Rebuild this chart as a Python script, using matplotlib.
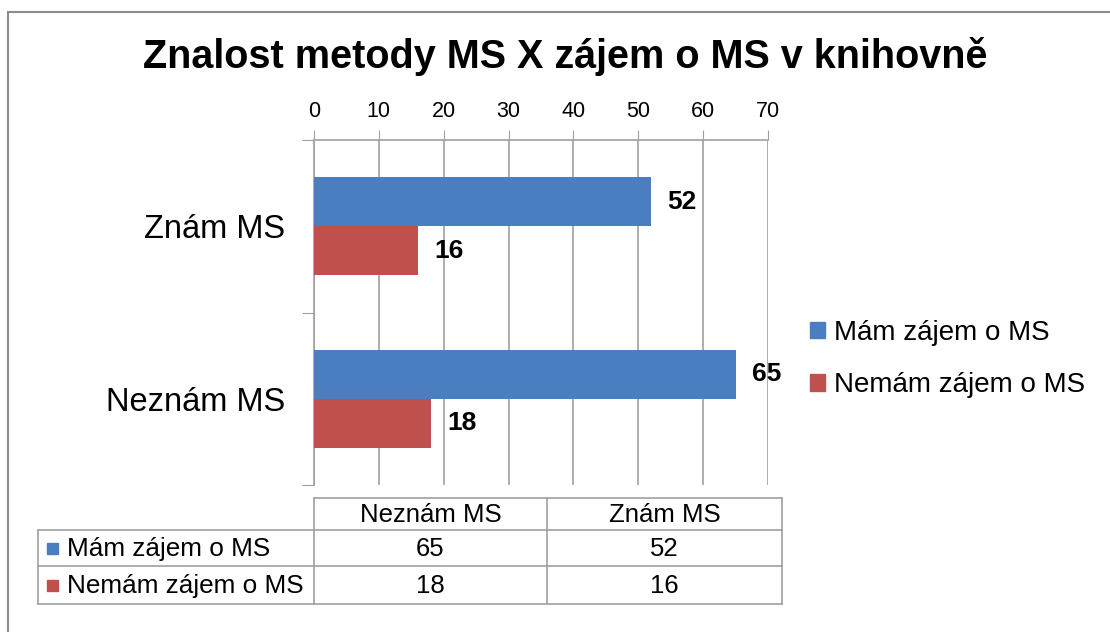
import matplotlib.pyplot as plt
from matplotlib.patches import Rectangle
import numpy as np

plt.rcParams['font.family'] = ['Liberation Sans', 'DejaVu Sans']

# data
categories = ["Znám MS", "Neznám MS"]
series_names = ["Mám zájem o MS", "Nemám zájem o MS"]
mam_zajem = [52, 65]
nemam_zajem = [16, 18]
x_ticks = [0, 10, 20, 30, 40, 50, 60, 70]
colors = ["#4A7EC0", "#C0504D"]

W, H = 1110, 632
fig = plt.figure(figsize=(W / 100, H / 100), dpi=100)

# outer frame of the chart
fig.add_artist(Rectangle((8 / W, -0.1), 1.2, 1.1 - 12 / H, transform=fig.transFigure,
                         fill=False, edgecolor="#8c8c8c", linewidth=1.5))

fig.text(565 / W, 1 - 57 / H, "Znalost metody MS X zájem o MS v knihovně",
         ha="center", va="center", fontsize=28.5, fontweight="bold")

# main plot area
ax = fig.add_axes([314 / W, 1 - 485 / H, 454 / W, 345 / H])
y = np.arange(len(categories))
h = 0.284
bars1 = ax.barh(y - h / 2, mam_zajem, height=h, color=colors[0], zorder=3)
bars2 = ax.barh(y + h / 2, nemam_zajem, height=h, color=colors[1], zorder=3)
for bars, vals in [(bars1, mam_zajem), (bars2, nemam_zajem)]:
    for b, v in zip(bars, vals):
        ax.text(b.get_width() + 2.5, b.get_y() + b.get_height() / 2, str(v),
                ha="left", va="center", fontsize=19, fontweight="bold")

ax.set_xlim(0, 70)
ax.set_ylim(len(categories) - 0.5, -0.5)
ax.xaxis.tick_top()
ax.set_xticks(x_ticks)
ax.set_xticklabels([str(t) for t in x_ticks], fontsize=15.5)
ax.tick_params(axis="x", direction="out", length=7, color="#a0a0a0", pad=6)
ax.grid(axis="x", color="#a0a0a0", linewidth=1.2, zorder=0)

ax.set_yticks(np.arange(-0.5, len(categories), 1.0), minor=False)
ax.set_yticklabels([])
ax.set_yticks(y, minor=True)
ax.set_yticklabels(categories, minor=True, fontsize=23.5)
ax.tick_params(axis="y", which="major", direction="out", length=9, color="#a0a0a0")
ax.tick_params(axis="y", which="minor", length=0, pad=21)

for s in ["right", "bottom"]:
    ax.spines[s].set_visible(False)
for s in ["top", "left"]:
    ax.spines[s].set_color("#a0a0a0")
    ax.spines[s].set_linewidth(1.2)

# legend
handles = [Rectangle((0, 0), 1, 1, color=c) for c in colors]
fig.legend(handles, series_names, loc="center left", bbox_to_anchor=(785 / W, 1 - 359 / H),
           frameon=False, fontsize=20, handlelength=0.55, handleheight=0.55,
           handletextpad=0.3, labelspacing=0.95)

# data table below the plot
tab = fig.add_axes([0, 0, 1, 1])
tab.set_xlim(0, W)
tab.set_ylim(H, 0)
tab.axis("off")
lc = "#a0a0a0"
col_x = [38, 314, 547, 782]
row_y = [498, 530, 566, 604]
# header row lines
tab.plot([col_x[1], col_x[3]], [row_y[0], row_y[0]], color=lc, lw=1.2)
for yy in row_y[1:]:
    tab.plot([col_x[0], col_x[3]], [yy, yy], color=lc, lw=1.2)
tab.plot([col_x[0], col_x[0]], [row_y[1], row_y[3]], color=lc, lw=1.2)
for xx in col_x[1:]:
    tab.plot([xx, xx], [row_y[0], row_y[3]], color=lc, lw=1.2)

table_cols = categories[::-1]
table_vals = [mam_zajem[::-1], nemam_zajem[::-1]]
for j, c in enumerate(table_cols):
    tab.text((col_x[j + 1] + col_x[j + 2]) / 2, (row_y[0] + row_y[1]) / 2 + 1, c,
             ha="center", va="center", fontsize=18.5)
for i, name in enumerate(series_names):
    yc = (row_y[i + 1] + row_y[i + 2]) / 2
    tab.add_patch(Rectangle((47, yc - 5), 11, 11, color=colors[i]))
    tab.text(67, yc + 1, name, ha="left", va="center", fontsize=18.8)
    for j, v in enumerate(table_vals[i]):
        tab.text((col_x[j + 1] + col_x[j + 2]) / 2, yc + 1, str(v),
                 ha="center", va="center", fontsize=18.5)

fig.savefig("out.png", dpi=100)
